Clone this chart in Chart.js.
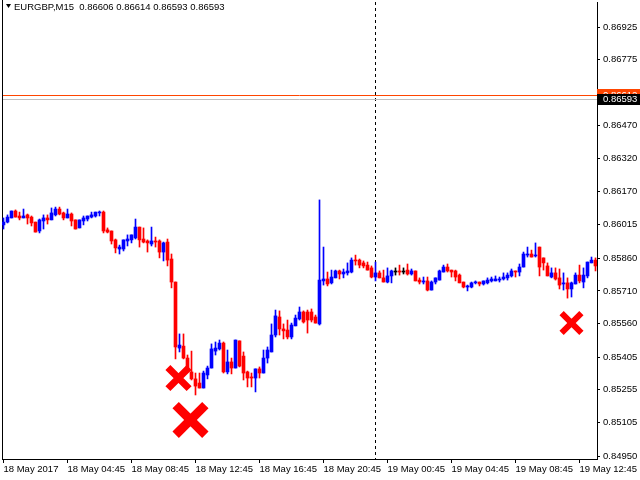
<!DOCTYPE html>
<html><head><meta charset="utf-8">
<script src="https://cdn.jsdelivr.net/npm/chart.js@4/dist/chart.umd.min.js"></script>
<style>html,body{margin:0;padding:0;background:#fff}canvas{display:block}</style>
</head><body>
<canvas id="c" width="640" height="480"></canvas>
<script>
const chartTitle = 'EURGBP,M15  0.86606 0.86614 0.86593 0.86593';
const openP = [0.86014,0.86027,0.86046,0.86078,0.86055,0.86046,0.86060,0.86050,0.86027,0.85986,0.86032,0.86046,0.86037,0.86060,0.86087,0.86069,0.86046,0.86064,0.86037,0.86000,0.86032,0.86041,0.86050,0.86055,0.86069,0.86073,0.85991,0.85986,0.85945,0.85903,0.85903,0.85940,0.85945,0.85954,0.86004,0.85949,0.85940,0.85926,0.85940,0.85940,0.85889,0.85935,0.85857,0.85751,0.85447,0.85456,0.85401,0.85337,0.85305,0.85286,0.85263,0.85323,0.85355,0.85433,0.85443,0.85470,0.85337,0.85383,0.85355,0.85480,0.85410,0.85337,0.85314,0.85309,0.85351,0.85332,0.85401,0.85429,0.85507,0.85590,0.85535,0.85530,0.85498,0.85549,0.85581,0.85613,0.85613,0.85613,0.85590,0.85558,0.85756,0.85765,0.85747,0.85770,0.85802,0.85788,0.85793,0.85797,0.85852,0.85852,0.85839,0.85829,0.85816,0.85774,0.85793,0.85770,0.85751,0.85779,0.85797,0.85802,0.85797,0.85806,0.85788,0.85802,0.85760,0.85751,0.85756,0.85714,0.85751,0.85760,0.85797,0.85820,0.85806,0.85802,0.85783,0.85751,0.85728,0.85728,0.85747,0.85751,0.85742,0.85747,0.85756,0.85756,0.85760,0.85765,0.85770,0.85779,0.85802,0.85797,0.85820,0.85875,0.85880,0.85871,0.85912,0.85862,0.85825,0.85774,0.85793,0.85770,0.85742,0.85747,0.85719,0.85742,0.85783,0.85751,0.85779,0.85839,0.85852];
const highP = [0.86046,0.86060,0.86078,0.86083,0.86073,0.86087,0.86064,0.86055,0.86027,0.86041,0.86060,0.86060,0.86092,0.86096,0.86096,0.86073,0.86087,0.86069,0.86037,0.86037,0.86055,0.86055,0.86073,0.86073,0.86078,0.86078,0.86000,0.85986,0.85949,0.85921,0.85945,0.85968,0.85968,0.86041,0.86004,0.86000,0.85945,0.86004,0.85958,0.85945,0.85935,0.85949,0.85880,0.85751,0.85512,0.85512,0.85415,0.85433,0.85332,0.85332,0.85341,0.85364,0.85466,0.85475,0.85484,0.85475,0.85438,0.85401,0.85484,0.85480,0.85429,0.85341,0.85332,0.85351,0.85360,0.85438,0.85452,0.85558,0.85622,0.85618,0.85558,0.85576,0.85562,0.85599,0.85636,0.85618,0.85622,0.85627,0.85599,0.86129,0.85912,0.85797,0.85806,0.85806,0.85806,0.85811,0.85839,0.85862,0.85875,0.85857,0.85848,0.85843,0.85825,0.85843,0.85802,0.85806,0.85816,0.85806,0.85816,0.85829,0.85816,0.85834,0.85811,0.85802,0.85770,0.85774,0.85774,0.85756,0.85770,0.85806,0.85829,0.85834,0.85806,0.85806,0.85788,0.85751,0.85737,0.85751,0.85756,0.85751,0.85756,0.85770,0.85774,0.85779,0.85774,0.85793,0.85793,0.85811,0.85802,0.85834,0.85889,0.85912,0.85898,0.85931,0.85912,0.85862,0.85839,0.85816,0.85816,0.85811,0.85793,0.85770,0.85751,0.85793,0.85829,0.85816,0.85843,0.85866,0.85862];
const lowP = [0.85995,0.86023,0.86046,0.86050,0.86037,0.86046,0.86018,0.86009,0.85981,0.85977,0.85995,0.86018,0.86037,0.86055,0.86060,0.86037,0.86046,0.86009,0.85995,0.86000,0.86014,0.86032,0.86046,0.86050,0.86055,0.85977,0.85977,0.85926,0.85885,0.85880,0.85894,0.85917,0.85931,0.85949,0.85912,0.85931,0.85889,0.85917,0.85912,0.85862,0.85848,0.85825,0.85724,0.85397,0.85429,0.85397,0.85337,0.85300,0.85231,0.85263,0.85263,0.85305,0.85355,0.85415,0.85438,0.85332,0.85328,0.85328,0.85355,0.85360,0.85300,0.85268,0.85268,0.85245,0.85309,0.85332,0.85378,0.85429,0.85498,0.85507,0.85489,0.85489,0.85489,0.85549,0.85576,0.85562,0.85516,0.85567,0.85562,0.85553,0.85737,0.85733,0.85742,0.85770,0.85765,0.85770,0.85783,0.85793,0.85829,0.85816,0.85816,0.85806,0.85770,0.85756,0.85770,0.85751,0.85747,0.85747,0.85783,0.85783,0.85788,0.85783,0.85783,0.85756,0.85742,0.85742,0.85710,0.85714,0.85742,0.85760,0.85797,0.85797,0.85774,0.85756,0.85747,0.85724,0.85710,0.85724,0.85742,0.85733,0.85737,0.85742,0.85751,0.85756,0.85751,0.85760,0.85760,0.85774,0.85774,0.85779,0.85820,0.85866,0.85866,0.85866,0.85779,0.85806,0.85779,0.85770,0.85760,0.85719,0.85714,0.85677,0.85682,0.85742,0.85747,0.85724,0.85770,0.85839,0.85802];
const closeP = [0.86027,0.86050,0.86078,0.86050,0.86046,0.86055,0.86046,0.86023,0.85981,0.86037,0.86046,0.86037,0.86069,0.86087,0.86064,0.86046,0.86064,0.86032,0.85995,0.86037,0.86046,0.86055,0.86060,0.86073,0.86073,0.85986,0.85981,0.85940,0.85908,0.85912,0.85945,0.85949,0.85968,0.86004,0.85945,0.85935,0.85931,0.85940,0.85935,0.85889,0.85931,0.85852,0.85751,0.85452,0.85461,0.85401,0.85341,0.85305,0.85272,0.85263,0.85332,0.85355,0.85443,0.85447,0.85470,0.85337,0.85383,0.85355,0.85484,0.85364,0.85332,0.85309,0.85309,0.85351,0.85332,0.85401,0.85438,0.85507,0.85595,0.85535,0.85526,0.85498,0.85553,0.85585,0.85613,0.85567,0.85576,0.85576,0.85562,0.85760,0.85765,0.85742,0.85774,0.85802,0.85788,0.85797,0.85802,0.85852,0.85848,0.85829,0.85825,0.85806,0.85774,0.85793,0.85770,0.85751,0.85779,0.85802,0.85797,0.85797,0.85797,0.85788,0.85802,0.85756,0.85751,0.85756,0.85714,0.85751,0.85770,0.85802,0.85820,0.85802,0.85797,0.85774,0.85747,0.85728,0.85733,0.85747,0.85751,0.85742,0.85756,0.85760,0.85765,0.85765,0.85765,0.85774,0.85783,0.85802,0.85797,0.85820,0.85880,0.85880,0.85866,0.85875,0.85820,0.85839,0.85779,0.85793,0.85765,0.85737,0.85747,0.85719,0.85747,0.85783,0.85756,0.85783,0.85843,0.85852,0.85825];
const timeTickIndex = [0,16,32,48,64,80,96,112,128,144];
const timeTickLabels = ['18 May 2017','18 May 04:45','18 May 08:45','18 May 12:45','18 May 16:45','18 May 20:45','19 May 00:45','19 May 04:45','19 May 08:45','19 May 12:45'];
const priceTicks = [0.86925,0.86775,0.86620,0.86470,0.86320,0.86170,0.86015,0.85860,0.85710,0.85560,0.85405,0.85255,0.85105,0.84950];
const priceMin = 0.849362, priceMax = 0.870402;
const separatorIndex = 93;
const askPrice = 0.86612, bidPrice = 0.86593;
const markIndex = [43.75, 46.75, 142];
const markPrice = [0.85309, 0.85116, 0.85562];

const FONT = 'Liberation Sans';
const UP = '#0000FF', DOWN = '#FF0000', FLAT = '#000000';
const colors = openP.map((o,i)=> closeP[i]>o ? UP : (closeP[i]<o ? DOWN : FLAT));

const overlay = {
  id: 'overlay',
  beforeDatasetsDraw(chart) {
    const ctx = chart.ctx, a = chart.chartArea, xs = chart.scales.x, ys = chart.scales.y;
    ctx.save();
    const sx = xs.getPixelForValue(separatorIndex);
    ctx.strokeStyle = '#000'; ctx.lineWidth = 1; ctx.setLineDash([3,3]);
    ctx.beginPath(); ctx.moveTo(sx, a.top); ctx.lineTo(sx, a.bottom); ctx.stroke();
    ctx.setLineDash([]);
    const ay = Math.round(ys.getPixelForValue(askPrice)) + 0.5;
    const by = Math.round(ys.getPixelForValue(bidPrice)) + 0.5;
    ctx.strokeStyle = '#FF4500';
    ctx.beginPath(); ctx.moveTo(a.left, ay); ctx.lineTo(a.right, ay); ctx.stroke();
    ctx.strokeStyle = '#C0C0C0';
    ctx.beginPath(); ctx.moveTo(a.left, by); ctx.lineTo(a.right, by); ctx.stroke();
    ctx.strokeStyle = '#000';
    ctx.beginPath(); ctx.moveTo(a.left + 0.5, 0); ctx.lineTo(a.left + 0.5, a.bottom); ctx.stroke();
    ctx.restore();
  },
  afterDraw(chart) {
    const ctx = chart.ctx, a = chart.chartArea, ys = chart.scales.y;
    ctx.save();
    ctx.font = '9.5px "' + FONT + '"';
    ctx.textBaseline = 'middle';
    const ay = ys.getPixelForValue(askPrice);
    const by = ys.getPixelForValue(bidPrice);
    ctx.fillStyle = '#FF4500';
    ctx.fillRect(a.right, Math.round(ay) - 6, 640 - a.right, 12);
    ctx.fillStyle = '#fff';
    ctx.fillText(askPrice.toFixed(5), a.right + 6, Math.round(ay));
    ctx.fillStyle = '#000';
    ctx.fillRect(a.right, Math.round(by) - 5, 640 - a.right, 11);
    ctx.fillStyle = '#fff';
    ctx.fillText(bidPrice.toFixed(5), a.right + 6, Math.round(by) + 0.5);
    ctx.fillStyle = '#000';
    ctx.beginPath(); ctx.moveTo(6, 4); ctx.lineTo(11, 4); ctx.lineTo(8.5, 8); ctx.closePath(); ctx.fill();
    ctx.fillText(chartTitle, 14, 7.5);
    ctx.restore();
  }
};

new Chart(document.getElementById('c'), {
  type: 'bar',
  data: {
    datasets: [
      {
        type: 'scatter',
        data: markIndex.map((x,k)=>({x:x, y:markPrice[k]})),
        pointStyle: 'crossRot',
        pointRadius: [15, 21, 14],
        pointBorderWidth: [7, 9, 6],
        borderColor: '#FF0000',
        backgroundColor: '#FF0000',
        order: 0
      },
      {
        data: openP.map((o,i)=>({x:i, y:[openP[i], closeP[i]]})),
        backgroundColor: colors,
        barThickness: 3,
        minBarLength: 1,
        grouped: false,
        borderWidth: 0,
        order: 1
      },
      {
        data: openP.map((o,i)=>({x:i, y:[lowP[i], highP[i]]})),
        backgroundColor: colors,
        barThickness: 1,
        grouped: false,
        borderWidth: 0,
        order: 2
      }
    ]
  },
  options: {
    responsive: false,
    animation: false,
    devicePixelRatio: 1,
    events: [],
    layout: { autoPadding: false, padding: { left: 2, top: 2, right: 0, bottom: 0 } },
    plugins: { legend: { display: false }, tooltip: { enabled: false } },
    scales: {
      x: {
        type: 'linear',
        position: 'bottom',
        min: -0.375, max: 148.375,
        offset: false,
        afterBuildTicks: s => { s.ticks = timeTickIndex.map(v=>({value:v})); },
        afterFit: s => { s.height = 21; s.paddingLeft = 0; s.paddingRight = 0; },
        ticks: {
          autoSkip: false, maxRotation: 0, minRotation: 0, align: 'start', padding: 1,
          color: '#000', font: { family: FONT, size: 9.5 },
          callback: v => { const k = timeTickIndex.indexOf(v); return k >= 0 ? timeTickLabels[k] : ''; }
        },
        grid: { drawOnChartArea: false, drawTicks: true, tickLength: 4, color: '#000', offset: false },
        border: { display: true, color: '#000', width: 1 }
      },
      y: {
        type: 'linear',
        position: 'right',
        min: priceMin, max: priceMax,
        afterBuildTicks: s => { s.ticks = priceTicks.map(v=>({value:v})); },
        afterFit: s => { s.width = 43; s.paddingTop = 0; s.paddingBottom = 0; },
        ticks: {
          autoSkip: false, padding: 3, color: '#000', font: { family: FONT, size: 9.5 },
          callback: v => Number(v).toFixed(5)
        },
        grid: { drawOnChartArea: false, drawTicks: true, tickLength: 3, color: '#000' },
        border: { display: true, color: '#000', width: 1 }
      }
    }
  },
  plugins: [overlay]
});
</script>
</body></html>
